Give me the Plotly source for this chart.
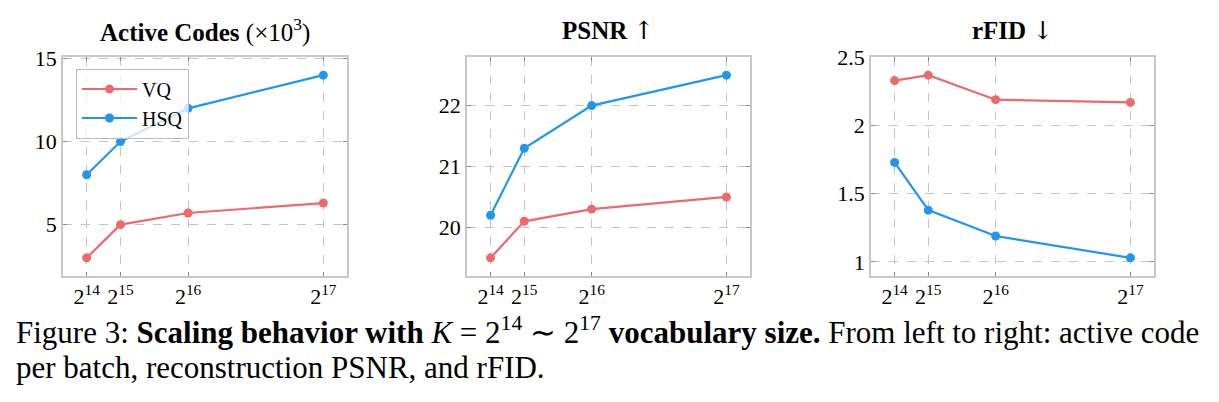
import plotly.graph_objects as go
from plotly.subplots import make_subplots

# vocabulary sizes K = 2^14 .. 2^17
vocab = [2 ** 14, 2 ** 15, 2 ** 16, 2 ** 17]
vocab_labels = ['2<sup>14</sup>', '2<sup>15</sup>', '2<sup>16</sup>', '2<sup>17</sup>']

# active codes (x10^3)
active_vq = [3.0, 5.0, 5.7, 6.3]
active_hsq = [8.0, 10.0, 12.0, 14.0]

# PSNR
psnr_vq = [19.5, 20.1, 20.3, 20.5]
psnr_hsq = [20.2, 21.3, 22.0, 22.5]

# rFID
rfid_vq = [2.33, 2.37, 2.19, 2.17]
rfid_hsq = [1.73, 1.38, 1.19, 1.03]

ARROW = '<span style="font-family:DejaVu Serif">{}</span>'
titles = ['<b>Active Codes</b> (×10<sup>3</sup>)',
          '<b>PSNR</b> ' + ARROW.format('↑'),
          '<b>rFID</b> ' + ARROW.format('↓')]

RED = '#EE6A6A'
BLUE = '#2196F0'
SERIF = 'Liberation Serif'
GRID = '#c4c4c4'
FRAME = '#c8c8c8'

W, H = 1219, 402

fig = make_subplots(rows=1, cols=3)

panels = [
    (active_vq, active_hsq, [5, 10, 15], ['5', '10', '15']),
    (psnr_vq, psnr_hsq, [20, 21, 22], ['20', '21', '22']),
    (rfid_vq, rfid_hsq, [1, 1.5, 2, 2.5], ['1', '1.5', '2', '2.5']),
]

# plot box positions in pixels (left, right)
boxes = [(55, 339), (459, 742), (863, 1146)]
top_px, bottom_px = 38, 264

for i, (vq, hsq, yt, ytl) in enumerate(panels):
    col = i + 1
    fig.add_trace(go.Scatter(
        x=vocab, y=vq, name='VQ', mode='lines+markers',
        line=dict(color=RED, width=2.2), marker=dict(color=RED, size=9),
        showlegend=(i == 0)), row=1, col=col)
    fig.add_trace(go.Scatter(
        x=vocab, y=hsq, name='HSQ', mode='lines+markers',
        line=dict(color=BLUE, width=2.2), marker=dict(color=BLUE, size=9),
        showlegend=(i == 0)), row=1, col=col)

    # pgfplots style enlarged limits (10% of data range)
    allv = vq + hsq
    lo, hi = min(allv), max(allv)
    pad = 0.1 * (hi - lo)
    xpad = 0.1 * (vocab[-1] - vocab[0])

    left, right = boxes[i]
    axis_common = dict(
        showgrid=True, gridcolor=GRID, griddash='dash', gridwidth=1,
        showline=True, linecolor=FRAME, linewidth=1.5, mirror='ticks',
        ticks='inside', ticklen=4, tickcolor='#888888',
        zeroline=False,
        tickfont=dict(family=SERIF, size=22, color='black'),
    )
    fig.update_xaxes(
        range=[vocab[0] - xpad, vocab[-1] + xpad],
        tickvals=vocab, ticktext=vocab_labels,
        domain=[left / W, right / W],
        **axis_common, row=1, col=col)
    fig.update_yaxes(
        range=[lo - pad, hi + pad],
        tickvals=yt, ticktext=ytl,
        domain=[1 - bottom_px / H, 1 - top_px / H],
        **axis_common, row=1, col=col)

    fig.add_annotation(
        text=titles[i], xref='paper', yref='paper',
        x=(left + right) / 2 / W, y=1 - 11 / H,
        xanchor='center', yanchor='middle', showarrow=False,
        font=dict(family=SERIF, size=25, color='black'))

# caption below the panels
fig.add_annotation(
    text='Figure 3: <b>Scaling behavior with</b> <i>K</i> = 2<sup>14</sup> ∼ 2<sup>17</sup> '
         '<b>vocabulary size.</b> From left to right: active code',
    xref='paper', yref='paper', x=6 / W, y=1 - 320 / H,
    xanchor='left', yanchor='middle', showarrow=False,
    font=dict(family=SERIF, size=31, color='black'))
fig.add_annotation(
    text='per batch, reconstruction PSNR, and rFID.',
    xref='paper', yref='paper', x=6 / W, y=1 - 358 / H,
    xanchor='left', yanchor='middle', showarrow=False,
    font=dict(family=SERIF, size=31, color='black'))

fig.update_layout(
    width=W, height=H,
    margin=dict(l=0, r=0, t=0, b=0),
    plot_bgcolor='white', paper_bgcolor='white',
    legend=dict(
        x=68 / W, y=1 - 50 / H, xanchor='left', yanchor='top',
        bgcolor='rgba(255,255,255,0.75)', bordercolor='#bbbbbb', borderwidth=1,
        font=dict(family=SERIF, size=20, color='black'),
        itemwidth=55,
    ),
)

fig.write_html('out.html')
